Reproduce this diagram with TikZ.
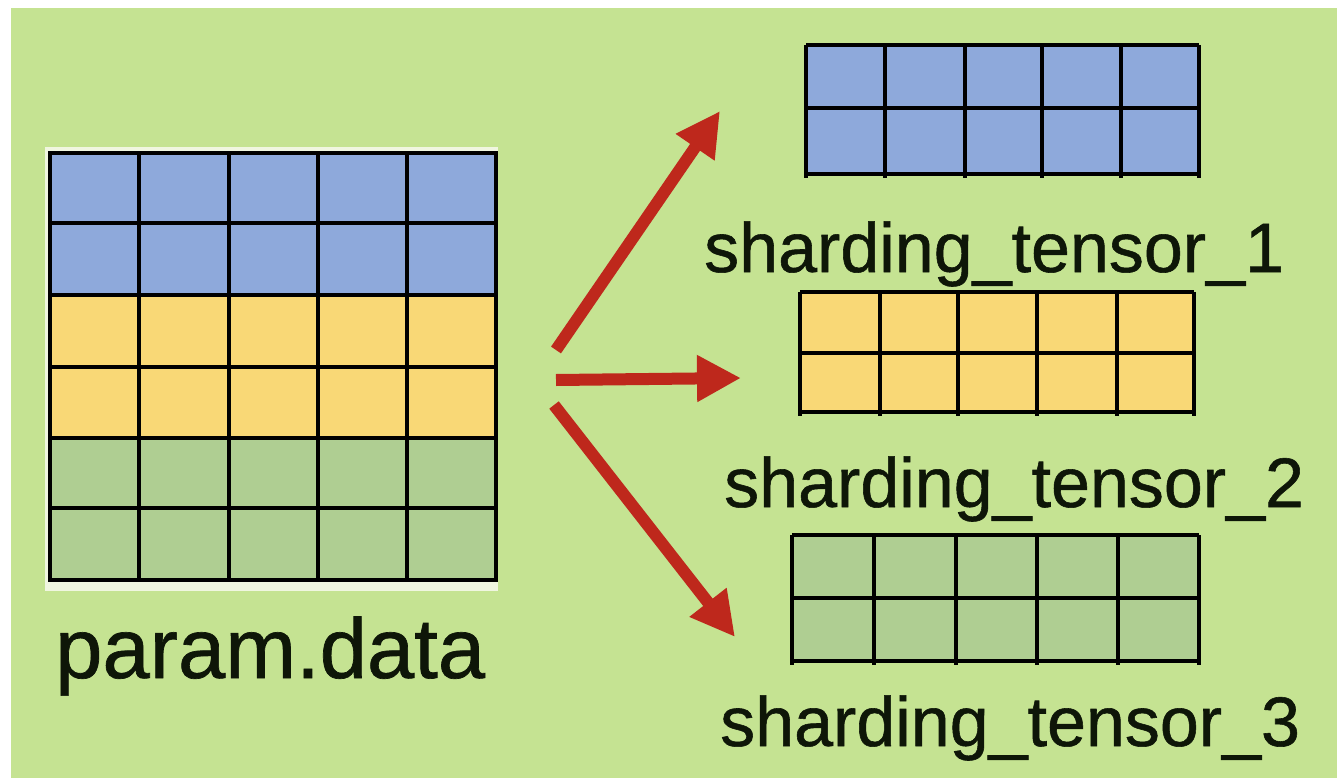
\documentclass[tikz,border=0pt]{standalone}
\usepackage{fontspec}
\setmainfont{Liberation Sans}
\newfontfamily\lblfont[FakeBold=0.8]{Liberation Sans}
\usetikzlibrary{arrows.meta}
\definecolor{bg}{RGB}{197,227,146}
\definecolor{cblue}{RGB}{142,169,219}
\definecolor{cyellow}{RGB}{249,216,118}
\definecolor{cgreen}{RGB}{175,206,146}
\definecolor{cred}{RGB}{190,40,28}
\definecolor{ctext}{RGB}{14,22,8}
\definecolor{halo}{RGB}{240,246,224}
\tikzset{
  gridline/.style={draw=black, line width=3.5pt},
  lbl/.style={anchor=base west, inner sep=0pt, text=ctext, font=\lblfont\fontsize{70pt}{80pt}\selectfont},
  biglbl/.style={anchor=base west, inner sep=0pt, text=ctext, font=\lblfont\fontsize{85pt}{96pt}\selectfont},
  tensor/.style={inner sep=0pt, anchor=north west, draw=none},
  shardarrow/.style={draw=cred, line width=12pt, -{Triangle[length=44pt,width=44pt]}}
}
\begin{document}
\begin{tikzpicture}[x=1pt,y=-1pt]
\useasboundingbox (0,0) rectangle (1337,778);
\fill[white] (0,0) rectangle (1337,778);
\fill[bg] (11,8) rectangle (1337,778);

% ---- source tensor param.data ----
\fill[halo] (45,147) rectangle (498,591);
\fill[cblue]   (50,153) rectangle (496,295);
\fill[cyellow] (50,295) rectangle (496,438);
\fill[cgreen]  (50,438) rectangle (496,580);
\foreach \yy in {223,295,367,438,508} \draw[gridline] (50,\yy) -- (496,\yy);
\foreach \xx in {139,229,318,407} \draw[gridline] (\xx,153) -- (\xx,580);
\draw[gridline] (50,153) rectangle (496,580);
\node[tensor, minimum width=446pt, minimum height=427pt] (src) at (50,153) {};
\node[biglbl] (srclbl) at (55,678) {param.data};

% ---- shard 1 ----
\fill[cblue] (806,45) rectangle (1199,174);
\draw[gridline] (806,108) -- (1199,108);
\foreach \xx in {885,965,1042,1121} \draw[gridline] (\xx,45) -- (\xx,178);
\draw[gridline] (806,45) -- (806,178);
\draw[gridline] (1199,45) -- (1199,178);
\draw[gridline] (806,45) -- (1199,45);
\draw[gridline] (806,174) -- (1199,174);
\node[tensor, minimum width=393pt, minimum height=129pt] (sh1) at (806,45) {};
\node[lbl] (lbl1) at (704,272) {sharding\_tensor\_1};

% ---- shard 2 ----
\fill[cyellow] (800,292) rectangle (1194,412);
\draw[gridline] (800,353) -- (1194,353);
\foreach \xx in {880,958,1037,1117} \draw[gridline] (\xx,292) -- (\xx,416);
\draw[gridline] (800,292) -- (800,416);
\draw[gridline] (1194,292) -- (1194,416);
\draw[gridline] (800,292) -- (1194,292);
\draw[gridline] (800,412) -- (1194,412);
\node[tensor, minimum width=394pt, minimum height=120pt] (sh2) at (800,292) {};
\node[lbl] (lbl2) at (724,507) {sharding\_tensor\_2};

% ---- shard 3 ----
\fill[cgreen] (792,535) rectangle (1199,661);
\draw[gridline] (792,598) -- (1199,598);
\foreach \xx in {874,956,1037,1118} \draw[gridline] (\xx,535) -- (\xx,665);
\draw[gridline] (792,535) -- (792,665);
\draw[gridline] (1199,535) -- (1199,665);
\draw[gridline] (792,535) -- (1199,535);
\draw[gridline] (792,661) -- (1199,661);
\node[tensor, minimum width=407pt, minimum height=126pt] (sh3) at (792,535) {};
\node[lbl] (lbl3) at (720,746) {sharding\_tensor\_3};

% ---- arrows ----
\coordinate (a1s) at (556,350);
\coordinate (a1t) at (720,111);
\coordinate (a2s) at (556,380);
\coordinate (a2t) at (741,378);
\coordinate (a3s) at (554,405);
\coordinate (a3t) at (735,637);
\draw[shardarrow] (a1s) -- (a1t);
\draw[shardarrow] (a2s) -- (a2t);
\draw[shardarrow] (a3s) -- (a3t);
\end{tikzpicture}
\end{document}
